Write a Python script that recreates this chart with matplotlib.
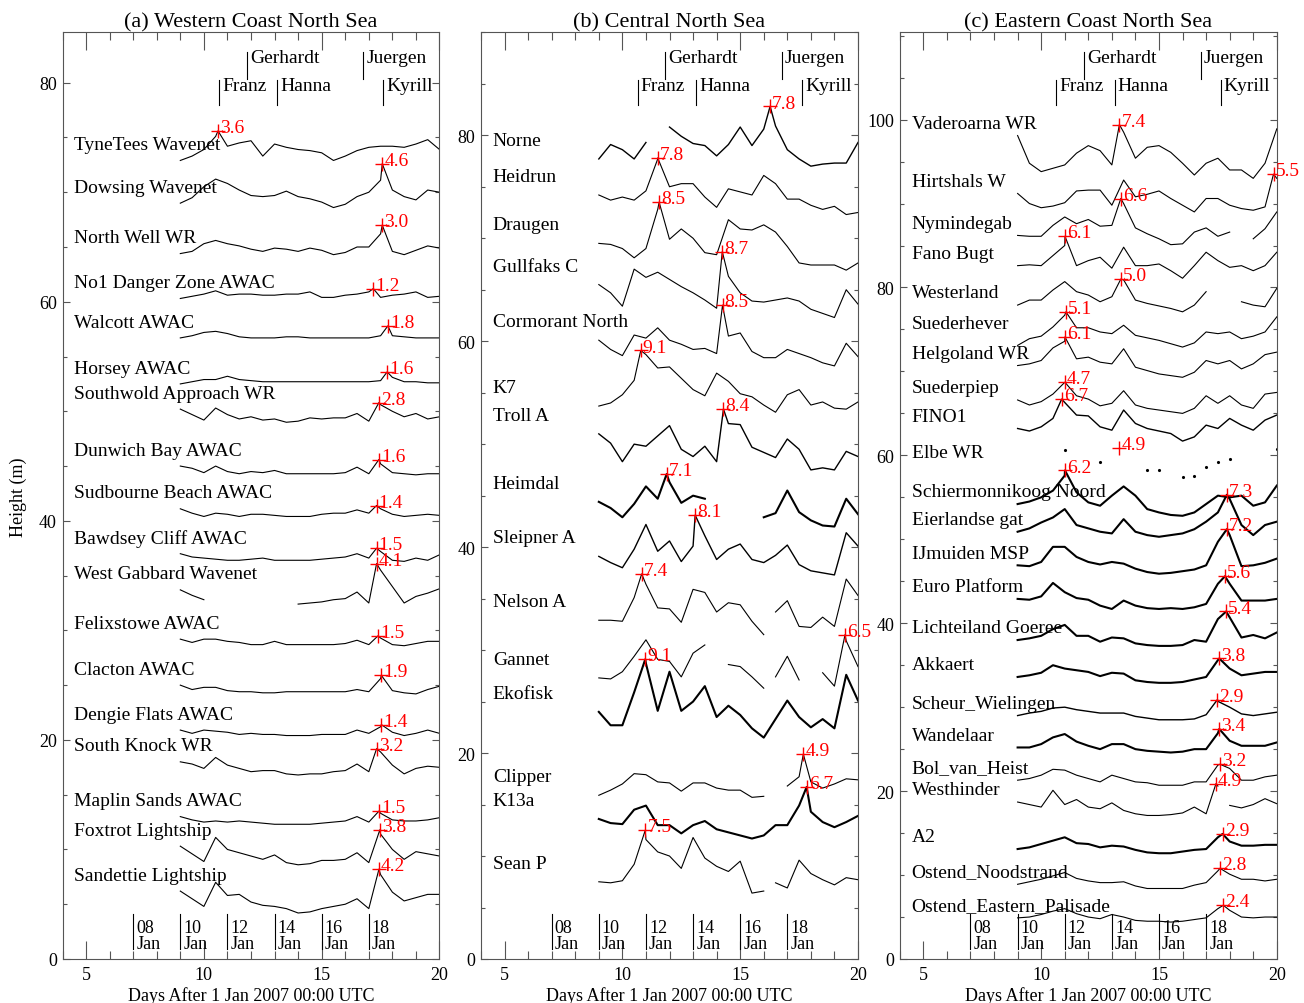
import numpy as np
import matplotlib.pyplot as plt
from matplotlib.ticker import MultipleLocator

plt.rcParams['font.family'] = ['Liberation Serif', 'DejaVu Serif']

nan = np.nan
# sample times (days after 1 Jan 2007) of every Hs list below
days = np.arange(9.0, 20.01, 0.5)

storm_names = ['Franz', 'Gerhardt', 'Hanna', 'Juergen', 'Kyrill']
storm_days = [10.65, 11.83, 13.12, 16.77, 17.62]
storm_row = [0, 1, 0, 1, 0]
date_days = [7, 9, 11, 13, 15, 17]

# ---------------- (a) Western Coast North Sea ----------------
names_a = ['TyneTees Wavenet', 'Dowsing Wavenet', 'North Well WR', 'No1 Danger Zone AWAC',
           'Walcott AWAC', 'Horsey AWAC', 'Southwold Approach WR', 'Dunwich Bay AWAC',
           'Sudbourne Beach AWAC', 'Bawdsey Cliff AWAC', 'West Gabbard Wavenet',
           'Felixstowe AWAC', 'Clacton AWAC', 'Dengie Flats AWAC', 'South Knock WR',
           'Maplin Sands AWAC', 'Foxtrot Lightship', 'Sandettie Lightship']
peak_day_a = [10.6, 17.57, 17.57, 17.19, 17.81, 17.78, 17.43, 17.43, 17.33, 17.33,
              17.33, 17.39, 17.53, 17.53, 17.33, 17.43, 17.47, 17.43]
peak_hs_a = [3.6, 4.6, 3.0, 1.2, 1.8, 1.6, 2.8, 1.6, 1.4, 1.5, 4.1, 1.5, 1.9, 1.4, 3.2,
             1.5, 3.8, 4.2]
hs_a = [
    [0.9, 1.3, 1.9, 3.1, 2.2, 2.5, 2.7, 1.3, 2.4, 2.1, 1.9, 1.8, 1.6, 0.9, 1.3, 1.8, 2.1, 2.2, 2.2, 2.1, 2.4, 2.8, 1.9],
    [1.0, 1.5, 2.5, 3.2, 2.8, 2.2, 1.7, 1.6, 1.7, 2.1, 1.6, 1.4, 1.1, 0.6, 0.9, 1.6, 2.0, 3.1, 2.2, 1.6, 1.3, 2.2, 2.0],
    [0.4, 0.6, 1.3, 1.6, 1.3, 1.1, 0.8, 0.6, 0.9, 0.8, 0.6, 0.9, 0.7, 0.3, 0.5, 1.0, 1.0, 2.2, 0.6, 0.3, 0.7, 1.1, 0.9],
    [0.3, 0.5, 0.7, 1.0, 0.6, 0.7, 0.7, 0.6, 0.6, 0.7, 0.7, 0.9, 0.4, 0.4, 0.6, 0.7, 0.9, 0.4, 0.6, 0.7, 0.9, 0.4, 0.5],
    [0.7, 0.9, 1.2, 1.3, 1.1, 0.8, 0.7, 0.7, 0.7, 0.8, 0.8, 0.7, 0.7, 0.7, 0.7, 0.7, 0.7, 0.9, 0.9, 0.8, 0.7, 0.7, 0.7],
    [0.5, 0.7, 0.9, 0.9, 1.2, 0.9, 0.8, 0.7, 0.7, 0.7, 0.7, 0.7, 0.7, 0.7, 0.7, 0.7, 0.7, 0.8, 1.1, 0.7, 0.7, 0.6, 0.6],
    [2.2, 1.7, 1.2, 2.3, 1.7, 1.3, 1.5, 1.2, 1.3, 1.0, 1.1, 1.4, 1.3, 1.4, 1.4, 1.8, 1.1, 2.6, 2.0, 1.5, 1.8, 1.3, 1.5],
    [1.0, 0.8, 0.4, 1.0, 0.5, 0.3, 0.5, 0.4, 0.6, 0.3, 0.3, 0.3, 0.3, 0.3, 0.4, 0.9, 0.3, 1.2, 0.4, 0.3, 0.2, 0.3, 0.3],
    [1.1, 0.7, 0.4, 0.7, 0.6, 0.4, 0.6, 0.6, 0.5, 0.4, 0.4, 0.4, 0.6, 0.7, 0.7, 1.0, 0.7, 1.1, 0.6, 0.4, 0.5, 0.6, 0.5],
    [1.0, 0.7, 0.6, 0.5, 0.4, 0.4, 0.5, 0.6, 0.4, 0.4, 0.4, 0.4, 0.5, 0.6, 0.7, 1.0, 0.6, 1.2, 0.4, 0.3, 0.6, 0.4, 0.9],
    [1.7, 1.2, 0.8, nan, nan, nan, nan, nan, nan, nan, 0.4, 0.5, 0.6, 0.8, 0.9, 1.5, 0.5, 3.5, 2.0, 0.5, 1.1, 1.4, 1.8],
    [1.2, 0.9, 1.2, 1.2, 1.0, 0.9, 0.7, 0.7, 1.0, 0.7, 0.7, 0.7, 0.7, 0.7, 0.8, 1.1, 0.7, 1.3, 0.7, 0.6, 0.8, 1.0, 1.0],
    [1.0, 0.6, 0.8, 0.8, 0.5, 0.4, 0.4, 0.3, 0.3, 0.4, 0.4, 0.4, 0.4, 0.4, 0.4, 0.6, 0.4, 1.6, 0.5, 0.3, 0.2, 0.6, 0.9],
    [0.9, 0.6, 0.9, 0.8, 0.7, 0.5, 0.6, 0.5, 0.5, 0.4, 0.4, 0.4, 0.5, 0.5, 0.5, 0.9, 0.6, 1.2, 0.7, 0.4, 0.6, 0.9, 0.6],
    [2.0, 1.8, 1.4, 2.4, 1.7, 1.4, 1.1, 1.2, 1.2, 0.9, 0.8, 0.9, 0.9, 1.1, 1.2, 1.8, 1.1, 2.9, 1.7, 0.9, 1.4, 1.6, 1.5],
    [1.0, 0.7, 0.5, 0.6, 0.5, 0.6, 0.5, 0.4, 0.3, 0.3, 0.3, 0.3, 0.4, 0.5, 0.6, 1.0, 0.5, 1.3, 0.7, 0.6, 0.6, 0.7, 0.9],
    [2.3, 1.6, 0.9, 3.1, 2.0, 1.7, 1.4, 1.1, 1.5, 0.8, 0.6, 0.7, 1.0, 1.0, 1.1, 1.7, 0.8, 3.4, 2.0, 1.1, 1.8, 1.6, 1.4],
    [2.2, 1.5, 0.8, 3.0, 1.8, 1.9, 1.2, 0.9, 0.8, 0.6, 0.2, 0.3, 0.6, 0.8, 1.0, 1.5, 0.6, 3.7, 2.1, 1.3, 1.6, 1.9, 1.9],
]

# ---------------- (b) Central North Sea ----------------
names_b = ['Norne', 'Heidrun', 'Draugen', 'Gullfaks C', 'Cormorant North', 'K7', 'Troll A',
           'Heimdal', 'Sleipner A', 'Nelson A', 'Gannet', 'Ekofisk', 'Clipper', 'K13a', 'Sean P']
peak_day_b = [16.27, 11.5, 11.56, 14.24, 14.25, 10.78, 14.29, 11.88, 13.09, 10.82, 19.45,
              10.97, 17.68, 17.82, 10.97]
peak_hs_b = [7.8, 7.8, 8.5, 8.7, 8.5, 9.1, 8.4, 7.1, 8.1, 7.4, 6.5, 9.1, 4.9, 6.7, 7.5]
hs_b = [
    [2.7, 4.1, 3.6, 2.7, 4.3, nan, 5.8, 4.9, 4.2, 4.0, 3.0, 4.1, 5.8, 4.0, 5.6, 5.9, 3.6, 2.7, 2.0, 2.2, 2.3, 2.3, 4.3],
    [4.2, 3.7, 4.0, 3.7, 4.6, 7.7, 5.0, 5.3, 5.3, 4.0, 3.0, 4.8, 4.5, 4.2, 6.1, 5.3, 3.8, 3.8, 3.2, 2.8, 3.1, 2.3, 2.5],
    [4.5, 4.4, 4.0, 3.1, 4.0, 7.8, 4.9, 5.9, 5.0, 3.6, 3.4, 6.8, 5.9, 5.8, 6.3, 5.6, 4.2, 2.6, 2.4, 2.4, 2.4, 1.9, 2.6],
    [5.5, 4.7, 3.4, 7.0, 6.2, 6.7, 6.0, 5.3, 4.7, 4.0, 3.2, 6.3, 4.7, 3.9, 3.8, 4.0, 4.2, 3.9, 3.1, 2.7, 2.3, 5.0, 3.6],
    [5.1, 4.2, 3.6, 5.6, 5.3, 6.3, 5.1, 4.7, 4.2, 4.3, 3.8, 5.5, 5.8, 4.0, 3.4, 3.4, 4.2, 3.8, 3.4, 2.9, 2.6, 4.8, 3.5],
    [3.7, 4.0, 4.8, 6.2, 8.7, 7.4, 7.5, 6.4, 5.3, 4.7, 6.9, 6.1, 4.9, 4.6, 3.8, 3.1, 4.8, 5.3, 3.8, 4.1, 3.5, 3.4, 4.1],
    [6.0, 5.1, 3.3, 5.0, 4.8, 5.8, 6.8, 4.5, 3.8, 4.8, 3.3, 7.0, 6.9, 4.7, 4.2, 3.7, 5.5, 4.5, 2.5, 2.7, 2.5, 4.3, 3.8],
    [4.4, 3.8, 2.9, 4.2, 5.9, 4.7, 6.3, 4.3, 5.0, 4.7, nan, nan, nan, nan, 2.9, 3.3, 5.5, 3.4, 2.6, 2.1, 2.0, 4.7, 3.2],
    [4.1, 3.5, 3.0, 4.8, 7.2, 4.6, 5.6, 3.6, 5.1, 6.1, 3.8, 4.8, 5.3, 3.8, 3.5, 4.2, 5.2, 3.3, 2.7, 2.5, 2.3, 6.4, 5.1],
    [2.9, 2.9, 2.8, 5.1, 6.4, 4.1, 4.0, 2.7, 5.9, 5.6, 3.7, 4.6, 4.4, 2.8, 1.5, 3.7, 4.8, 2.3, 2.2, 3.2, 2.3, 6.9, 5.3],
    [2.3, 2.2, 2.9, 4.4, 6.0, 4.1, 3.9, 2.4, 4.7, 5.5, nan, 3.6, 3.4, 2.4, 1.3, 2.4, 4.4, 2.1, nan, 2.8, 1.5, 5.9, 3.4],
    [4.0, 2.7, 2.7, 5.9, 8.7, 4.1, 7.9, 4.1, 5.0, 6.5, 3.5, 4.6, 3.7, 2.4, 1.5, 3.3, 5.1, 3.5, 2.5, 3.3, 2.4, 7.6, 5.1],
    [0.9, 1.4, 2.0, 3.0, 2.9, 2.2, 2.1, 1.3, 2.1, 2.1, 1.6, 1.4, 1.4, 0.7, 0.8, nan, 1.8, 2.7, 2.2, 1.6, 2.0, 2.5, 2.4],
    [3.6, 3.2, 3.1, 4.5, 4.9, 3.0, 3.0, 2.2, 3.0, 3.4, 2.6, 2.3, 2.0, 1.7, 2.0, 3.0, 3.0, 4.9, 4.3, 3.3, 2.8, 3.3, 3.9],
    [2.5, 2.4, 2.6, 4.2, 6.6, 5.4, 5.0, 3.8, 6.8, 4.8, 4.0, 3.5, 4.5, 1.4, 1.6, 2.4, 1.9, 4.6, 3.3, 2.7, 2.2, 2.9, 2.7],
]

# ---------------- (c) Eastern Coast North Sea ----------------
names_c = ['Vaderoarna WR', 'Hirtshals W', 'Nymindegab', 'Fano Bugt', 'Westerland',
           'Suederhever', 'Helgoland WR', 'Suederpiep', 'FINO1', 'Elbe WR',
           'Schiermonnikoog Noord', 'Eierlandse gat', 'IJmuiden MSP', 'Euro Platform',
           'Lichteiland Goeree', 'Akkaert', 'Scheur_Wielingen', 'Wandelaar', 'Bol_van_Heist',
           'Westhinder', 'A2', 'Ostend_Noodstrand', 'Ostend_Eastern_Palisade']
peak_day_c = [13.32, 19.86, 13.38, 11.01, 13.38, 11.05, 11.01, 11.01, 10.87, 13.32, 11.01,
              17.88, 17.88, 17.8, 17.85, 17.56, 17.48, 17.56, 17.59, 17.42, 17.7, 17.59, 17.73]
peak_hs_c = [7.4, 5.5, 6.6, 6.1, 5.0, 5.1, 6.1, 4.7, 6.7, 4.9, 6.2, 7.3, 7.2, 5.6, 5.4, 3.8,
             2.9, 3.4, 3.2, 4.9, 2.9, 2.8, 2.4]
hs_c = [
    [6.1, 2.8, 1.8, 2.2, 2.6, 4.0, 4.9, 4.3, 2.6, 6.5, 3.4, 4.7, 4.9, 4.1, 2.8, 1.4, 2.8, 3.4, 2.0, 2.0, 1.0, 2.8, 6.9],
    [3.2, 2.0, 1.5, 1.7, 2.1, 3.5, 3.6, 3.6, 1.8, 4.8, 2.8, 3.1, 3.5, 2.6, 1.8, 1.0, 2.6, 2.6, 1.8, 1.4, 1.2, 1.6, 5.0],
    [2.2, 2.1, 2.1, 3.4, 4.4, 3.6, 4.1, 3.3, 3.4, 6.0, 3.1, 2.4, 1.8, 1.1, 1.2, 2.6, 3.1, 2.1, 2.6, nan, 1.8, 3.0, 5.0],
    [2.6, 2.7, 2.6, 3.8, 5.0, 2.6, 3.2, 3.6, 2.3, 4.8, 2.6, 2.6, 2.8, 2.0, 1.1, 2.6, 4.2, 3.2, 2.4, 2.6, 2.0, 2.6, 4.2],
    [1.9, 2.5, 2.5, 3.7, 4.7, 3.5, 3.1, 2.3, 2.9, 4.9, 2.5, 2.1, 1.8, 1.5, 1.1, 1.9, 3.5, nan, nan, 2.3, 1.9, 1.7, 3.9],
    [1.1, 1.9, 2.2, 3.3, 4.7, 3.2, 3.2, 2.7, 2.5, 3.5, 2.3, 2.0, 1.7, 1.3, 0.9, 1.4, 2.7, 2.5, 2.7, 1.9, 2.2, 2.7, 4.5],
    [2.7, 2.9, 3.3, 4.8, 5.6, 3.5, 3.7, 3.1, 2.9, 4.7, 2.5, 2.1, 1.7, 1.5, 1.3, 1.9, 3.3, 2.9, 3.3, 2.3, 2.9, 4.0, 4.3],
    [2.6, 2.0, 2.4, 3.3, 4.7, 3.1, 2.7, 1.9, 2.2, 3.7, 2.0, 1.6, 1.4, 1.2, 1.0, 1.6, 3.1, 2.2, 3.1, 2.0, 1.6, 3.3, 3.5],
    [3.2, 2.9, 3.4, 4.4, 6.3, 4.8, 4.7, 3.4, 3.0, 5.4, 3.8, 3.2, 2.9, 2.6, 1.7, 2.2, 3.6, 3.2, 4.4, 3.6, 3.0, 4.2, 4.8],
    [nan, nan, nan, nan, 4.6, nan, nan, 3.2, nan, nan, nan, 2.2, 2.2, nan, 1.4, 1.6, 2.6, 3.2, 3.6, nan, nan, nan, 4.8],
    [2.2, 2.5, 3.0, 3.8, 5.6, 3.6, 2.4, 2.0, 3.2, 4.3, 3.2, 1.6, 1.2, 0.9, 0.8, 1.2, 2.2, 3.2, 3.0, 3.2, 2.0, 2.4, 4.4],
    [2.9, 3.3, 4.0, 4.6, 5.6, 3.7, 3.3, 2.9, 2.7, 4.4, 2.9, 2.5, 2.3, 2.5, 2.7, 3.2, 4.1, 5.2, 6.8, 3.7, 2.5, 3.7, 4.1],
    [2.9, 2.8, 3.3, 5.1, 5.1, 3.9, 3.3, 3.0, 3.3, 3.1, 2.5, 2.1, 1.9, 2.0, 2.2, 2.4, 2.9, 5.7, 6.5, 2.8, 2.9, 3.2, 3.7],
    [2.9, 2.8, 3.2, 4.8, 3.7, 3.0, 2.8, 2.1, 1.7, 2.7, 2.1, 1.8, 1.7, 1.8, 1.7, 1.9, 2.3, 4.7, 4.7, 2.7, 2.7, 2.7, 2.9],
    [2.0, 2.2, 2.5, 3.3, 3.8, 2.5, 2.5, 1.8, 2.3, 2.2, 1.6, 1.4, 1.3, 1.3, 1.4, 2.0, 1.8, 4.5, 4.7, 2.3, 2.6, 2.2, 2.9],
    [1.6, 1.8, 2.1, 3.0, 2.6, 2.4, 2.2, 1.7, 2.1, 2.0, 1.2, 1.0, 0.9, 0.9, 1.0, 1.3, 1.6, 3.6, 2.6, 1.8, 2.0, 2.2, 2.2],
    [1.0, 1.3, 1.5, 1.9, 2.0, 1.7, 1.5, 1.3, 1.3, 1.3, 0.9, 0.7, 0.5, 0.5, 0.5, 0.6, 1.1, 2.7, 2.0, 1.2, 1.0, 1.2, 1.4],
    [1.2, 1.2, 1.6, 2.4, 2.8, 1.9, 1.4, 1.0, 1.6, 1.6, 1.0, 0.8, 0.7, 0.6, 0.7, 1.0, 1.0, 2.9, 2.0, 1.4, 1.4, 1.4, 1.8],
    [1.3, 1.5, 1.9, 2.6, 2.5, 1.9, 1.5, 1.1, 1.9, 1.5, 1.1, 1.0, 0.7, 0.7, 0.7, 1.1, 1.1, 3.1, 2.7, 1.3, 1.3, 1.7, 1.9],
    [2.7, 2.4, 2.1, 4.1, 2.4, 3.0, 2.1, 1.9, 2.6, 1.7, 1.3, 1.1, 1.1, 1.2, 1.4, 2.1, 1.3, 4.6, 2.3, 2.0, 2.4, 3.1, 2.5],
    [1.1, 1.3, 1.7, 2.1, 2.5, 1.8, 1.7, 1.3, 1.5, 1.4, 1.0, 0.7, 0.6, 0.6, 0.8, 1.0, 1.1, 2.5, 2.0, 1.5, 1.5, 1.6, 1.6],
    [0.9, 1.2, 1.5, 1.9, 2.3, 1.6, 1.3, 1.1, 1.1, 1.2, 0.7, 0.4, 0.4, 0.4, 0.4, 0.8, 1.1, 2.5, 2.1, 1.5, 1.5, 1.3, 1.5],
    [0.9, 1.0, 1.3, 1.7, 2.0, 1.4, 1.0, 0.8, 1.3, 1.0, 0.6, 0.5, 0.5, 0.4, 0.5, 0.7, 0.9, 2.0, 1.8, 1.0, 0.9, 1.0, 1.0],
]

# short data gaps that fall between two samples
breaks = {'Nelson A': [16.25], 'Gannet': [16.25], 'Sean P': [16.3], 'Westhinder': [17.7]}
# records that are noisy enough to draw as a heavy band
heavy = {'Heimdal', 'Ekofisk', 'K13a', 'Schiermonnikoog Noord', 'Eierlandse gat',
         'IJmuiden MSP', 'Euro Platform', 'Lichteiland Goeree', 'Akkaert', 'Wandelaar', 'A2'}
medium = {'Norne', 'Sleipner A', 'Troll A', 'FINO1', 'Scheur_Wielingen'}
sparse = {'Elbe WR'}
# station names that sit a little higher than the usual rule puts them
label_nudge = {'Suederhever': 1.2}

fig = plt.figure(figsize=(13.04, 10.04), dpi=100)
FW, FH = 1304.0, 1004.0
grey = '#555555'


def draw_panel(left, title, names, hs, peak_day, peak_hs, spacing, ytop, lift):
    ax = fig.add_axes([left / FW, 44 / FH, 377 / FW, 926.7 / FH])
    n = len(names)
    for i, name in enumerate(names):
        off = spacing * (n - i)
        vals = np.array(hs[i], dtype=float)
        good = vals[np.isfinite(vals)]
        if name in sparse:
            ax.plot(days, off + vals, linestyle='none', marker='.', ms=2.5, color='black')
            first = good.mean()
        else:
            br = breaks.get(name, [])
            t = np.concatenate([days, [peak_day[i]], br])
            v = np.concatenate([vals, [peak_hs[i]], [nan] * len(br)])
            order = np.argsort(t, kind='stable')
            lw = 1.5 if name in heavy else (1.0 if name in medium else 0.8)
            ax.plot(t[order], off + v[order], color='black', lw=lw)
            first = good[0]
        ax.plot(peak_day[i], off + peak_hs[i], '+', color='red', ms=10, mew=1.0)
        ax.annotate('%.1f' % peak_hs[i], (peak_day[i], off + peak_hs[i]), xytext=(1.5, -0.8),
                    textcoords='offset points', color='red', fontsize=14,
                    ha='left', va='baseline')
        ax.text(4.5, off + first + lift + label_nudge.get(name, 0), name, fontsize=14,
                ha='left', va='center')

    tr = ax.get_xaxis_transform()
    for name, d, row in zip(storm_names, storm_days, storm_row):
        y0, y1, yb = (0.9496, 0.9787, 0.9676) if row else (0.9212, 0.9482, 0.938)
        ax.plot([d, d], [y0, y1], transform=tr, color='black', lw=0.8)
        ax.text(d + 0.13, yb, name, transform=tr, fontsize=14, ha='left', va='baseline')
    for d in date_days:
        ax.plot([d, d], [0.0108, 0.0486], transform=tr, color='black', lw=0.8)
        ax.text(d + 0.13, 0.008, '%02d\nJan' % (d + 1), transform=tr, fontsize=13,
                ha='left', va='bottom', linespacing=0.9)

    ax.set_xlim(4, 20)
    ax.set_ylim(0, ytop)
    ax.xaxis.set_major_locator(MultipleLocator(5))
    ax.xaxis.set_minor_locator(MultipleLocator(1))
    ax.yaxis.set_major_locator(MultipleLocator(20))
    ax.yaxis.set_minor_locator(MultipleLocator(5))
    ax.tick_params(which='both', direction='in', top=True, right=True, color=grey,
                   labelsize=13, width=0.8)
    ax.tick_params(axis='x', which='major', length=13, pad=5)
    ax.tick_params(axis='x', which='minor', length=6)
    ax.tick_params(axis='y', which='major', length=5, pad=4)
    ax.tick_params(axis='y', which='minor', length=3)
    for sp in ax.spines.values():
        sp.set_color(grey)
        sp.set_linewidth(0.8)
    ax.set_title(title, fontsize=16, pad=4)
    ax.set_xlabel('Days After 1 Jan 2007 00:00 UTC', fontsize=13, labelpad=2)
    return ax


draw_panel(62.5, '(a) Western Coast North Sea', names_a, hs_a, peak_day_a, peak_hs_a,
           4, 84.6, 1.45)
draw_panel(481, '(b) Central North Sea', names_b, hs_b, peak_day_b, peak_hs_b, 5, 90.0, 1.8)
draw_panel(899.8, '(c) Eastern Coast North Sea', names_c, hs_c, peak_day_c, peak_hs_c,
           4, 110.4, 1.45)
fig.text(18 / FW, 1 - 497 / FH, 'Height (m)', rotation=90, fontsize=13, ha='center', va='center')

fig.savefig('out.png', dpi=100)
